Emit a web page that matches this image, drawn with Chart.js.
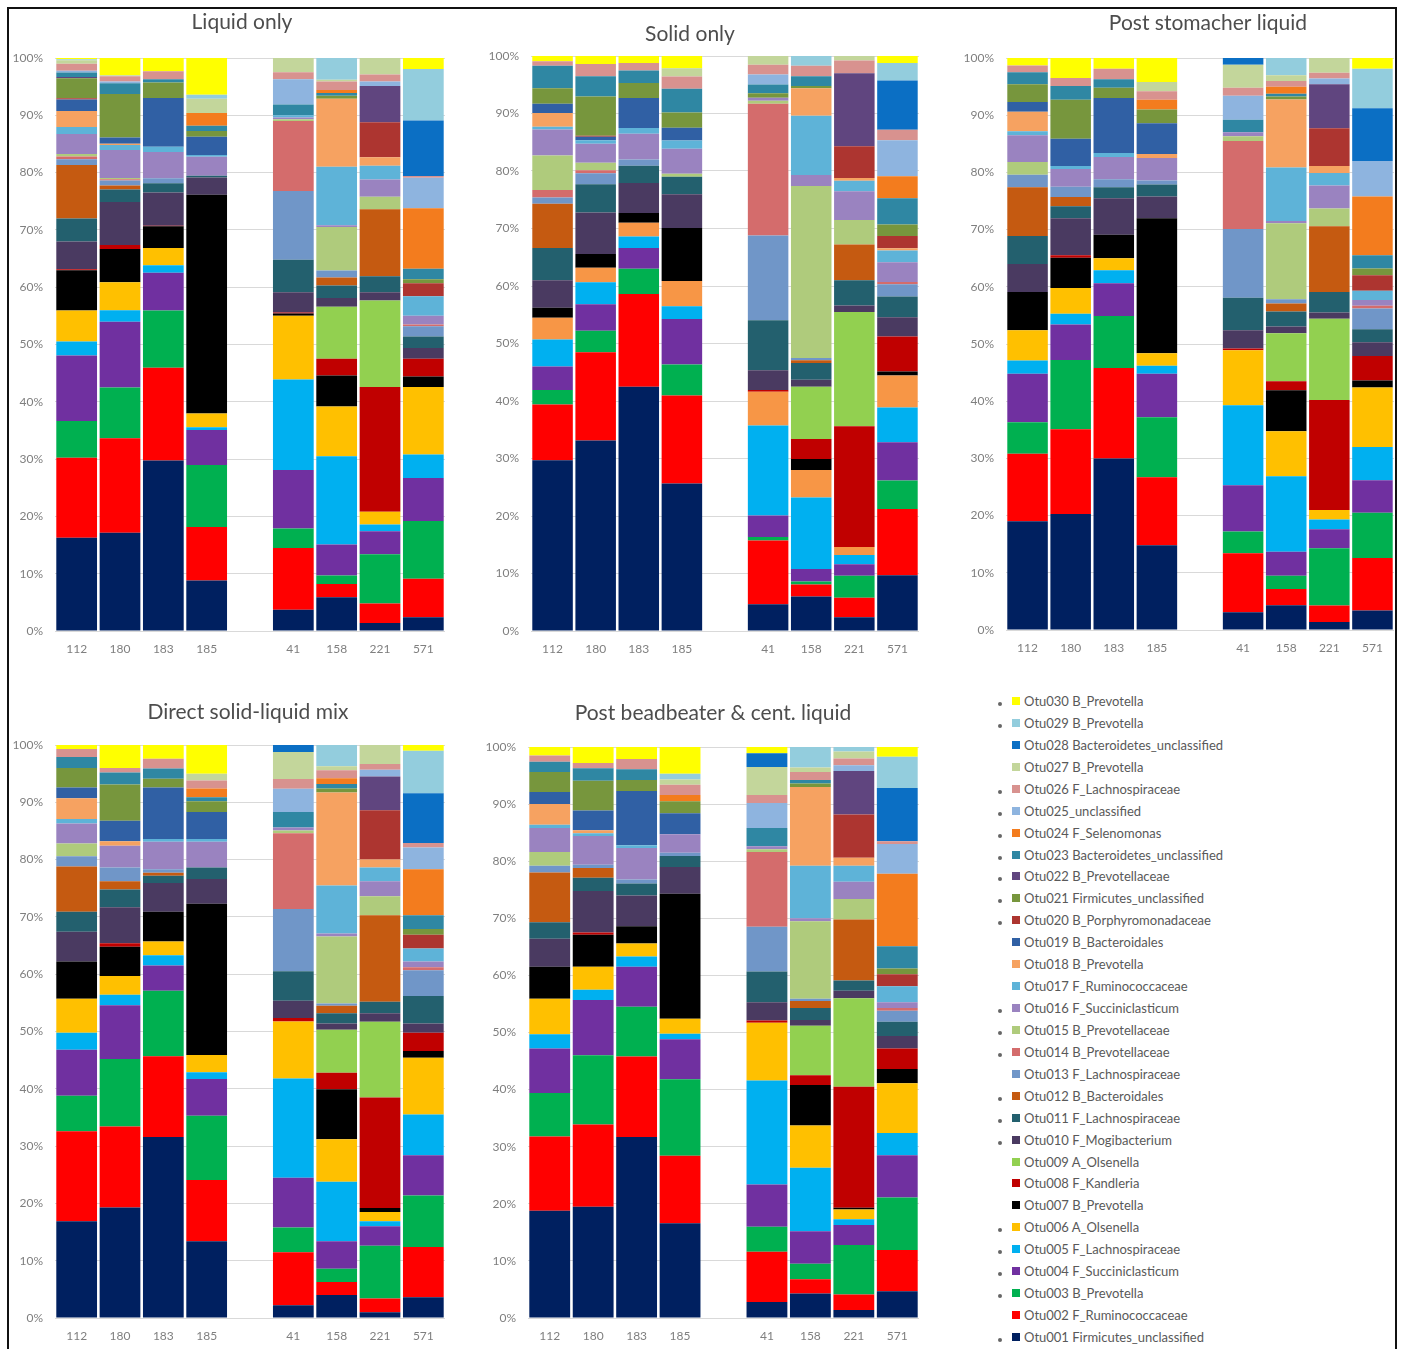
<!DOCTYPE html>
<html>
<head>
<meta charset="utf-8">
<title>OTU relative abundance</title>
<script src="https://cdn.jsdelivr.net/npm/chart.js@4.4.1/dist/chart.umd.min.js"></script>
<style>
  html, body { margin: 0; padding: 0; background: #fff; }
  body { width: 1402px; height: 1349px; position: relative; overflow: hidden; font-family: Lato, "Open Sans", sans-serif; }
  .panel { position: absolute; }
  .frame { position: absolute; left: 7px; top: 7px; width: 1386px; height: 1380px; border: 2px solid #111; pointer-events: none; z-index: 5; }
  .item { position: absolute; left: 990px; height: 16px; line-height: 16px; font-size: 13px; color: #595959; white-space: nowrap; }
  .item .dot { position: absolute; left: 8px; top: 9px; width: 4px; height: 4px; border-radius: 50%; background: #666; }
  .item .sw { position: absolute; left: 22px; top: 4px; width: 8px; height: 8px; }
  .item .tx { position: absolute; left: 34px; top: 0; }
</style>
</head>
<body>
<div class="frame"></div>
<div id="legend"></div>

<script>
// ---- categories ----
const sampleLabels = ['112', '180', '183', '185', '', '41', '158', '221', '571'];
const sampleIds = ['112', '180', '183', '185', '41', '158', '221', '571'];

const otuNames = [
  'Otu001 Firmicutes_unclassified', 'Otu002 F_Ruminococcaceae', 'Otu003 B_Prevotella',
  'Otu004 F_Succiniclasticum', 'Otu005 F_Lachnospiraceae', 'Otu006 A_Olsenella',
  'Otu007 B_Prevotella', 'Otu008 F_Kandleria', 'Otu009 A_Olsenella',
  'Otu010 F_Mogibacterium', 'Otu011 F_Lachnospiraceae', 'Otu012 B_Bacteroidales',
  'Otu013 F_Lachnospiraceae', 'Otu014 B_Prevotellaceae', 'Otu015 B_Prevotellaceae',
  'Otu016 F_Succiniclasticum', 'Otu017 F_Ruminococcaceae', 'Otu018 B_Prevotella',
  'Otu019 B_Bacteroidales', 'Otu020 B_Porphyromonadaceae', 'Otu021 Firmicutes_unclassified',
  'Otu022 B_Prevotellaceae', 'Otu023 Bacteroidetes_unclassified', 'Otu024 F_Selenomonas',
  'Otu025_unclassified', 'Otu026 F_Lachnospiraceae', 'Otu027 B_Prevotella',
  'Otu028 Bacteroidetes_unclassified', 'Otu029 B_Prevotella', 'Otu030 B_Prevotella'
];

// OTUs flagged with a dot in the key
const flaggedOtus = [1, 3, 4, 5, 6, 10, 11, 12, 14, 15, 16, 20, 21, 22, 23, 24, 25, 26, 29, 30];

const panelTitles = ['Liquid only', 'Solid only', 'Post stomacher liquid',
  'Direct solid-liquid mix', 'Post beadbeater & cent. liquid'];

// ---- relative abundance (%), one row per sample, columns Otu001 .. Otu030 ----
const liquidOnly = [
  [16.2, 13.9, 6.4, 11.4, 2.4, 5.4, 7.0, 0.2, 0, 4.8, 4.0, 9.3, 1.0, 0.5, 0.4, 3.5, 1.2, 2.8, 2.0, 0.2, 3.5, 0.2, 0.8, 0, 0.3, 1.2, 0.6, 0, 0.2, 0.2],
  [17.2, 16.5, 8.9, 11.5, 2.0, 4.9, 5.8, 0.7, 0, 7.5, 2.2, 0.7, 0.9, 0.2, 0.2, 4.9, 0.9, 0.2, 1.1, 0, 7.6, 0, 1.9, 0, 0.3, 0.9, 0.2, 0, 0, 3.0],
  [29.8, 16.2, 10.0, 6.6, 1.3, 3.0, 3.8, 0.1, 0, 5.8, 1.6, 0, 0.9, 0, 0, 4.6, 0.9, 0, 8.5, 0, 2.7, 0, 0.6, 0, 0, 1.4, 0, 0, 0, 2.3],
  [8.8, 9.3, 10.8, 6.1, 0.5, 2.4, 38.1, 0, 0, 3.0, 0.3, 0, 0, 0, 0, 3.3, 0.3, 0, 3.2, 0, 1.0, 0, 0.9, 2.2, 0, 0, 2.5, 0, 0.7, 6.4],
  [3.7, 10.8, 3.4, 10.2, 15.8, 11.1, 0.4, 0.2, 0, 3.5, 5.7, 0, 12.0, 12.2, 0.3, 0.3, 0.4, 0, 0, 0, 0, 0, 1.9, 0, 4.4, 1.2, 2.5, 0, 0, 0],
  [5.9, 2.3, 1.5, 5.4, 15.4, 8.7, 5.4, 2.9, 9.1, 1.5, 2.2, 1.4, 1.2, 0, 7.6, 0.3, 10.2, 11.9, 0, 0, 0.5, 0, 0.5, 0.5, 0, 1.5, 0.3, 0, 3.8, 0],
  [1.4, 3.4, 8.6, 4.0, 1.2, 2.2, 0, 21.8, 15.1, 1.4, 2.8, 11.7, 0, 0, 2.2, 3.0, 2.4, 1.5, 0, 6.1, 0, 6.3, 0, 0, 0.8, 1.2, 2.9, 0, 0, 0],
  [2.4, 6.7, 10.1, 7.5, 4.1, 11.8, 1.8, 3.1, 0, 1.9, 2.0, 0, 1.8, 0.3, 0, 1.5, 3.4, 0, 0, 2.3, 0.7, 0, 1.8, 10.6, 5.3, 0.3, 0, 9.7, 9.0, 1.9]
];

const solidOnly = [
  [29.7, 9.7, 2.5, 4.1, 4.7, 3.8, 1.7, 0, 0, 4.8, 5.6, 7.7, 1.1, 1.3, 6.0, 4.5, 0.5, 2.4, 1.6, 0, 2.7, 0, 3.9, 0, 0, 0.8, 0, 0, 0, 0.9],
  [33.0, 15.3, 3.7, 4.6, 3.8, 2.5, 2.4, 0, 0, 7.2, 4.9, 0, 1.9, 0.5, 1.3, 3.3, 0.6, 0, 0.6, 0.2, 6.8, 0, 3.5, 0, 0, 2.1, 0, 0, 0, 1.4],
  [42.5, 16.1, 4.4, 3.6, 2.0, 2.4, 1.7, 0, 0, 5.2, 3.0, 0, 1.1, 0, 0, 4.5, 1.0, 0, 5.2, 0, 2.6, 0, 2.2, 0, 0, 1.3, 0, 0, 0, 1.2],
  [25.3, 15.1, 5.3, 7.8, 2.2, 4.3, 9.1, 0, 0, 5.8, 3.0, 0, 0, 0, 0.5, 4.3, 1.4, 0, 2.2, 0, 2.6, 0, 4.1, 0, 0, 2.1, 1.4, 0, 0, 2.1],
  [4.6, 11.0, 0.6, 3.7, 15.5, 5.8, 0, 0.3, 0, 3.4, 8.6, 0, 14.6, 22.7, 0.5, 0.5, 0, 0, 0, 0, 0.8, 0, 1.5, 0, 1.7, 1.7, 1.5, 0, 0, 0],
  [6.0, 2.1, 0.5, 2.2, 12.4, 4.8, 1.9, 3.5, 9.1, 1.2, 2.9, 0.5, 0.4, 0, 29.9, 1.9, 10.3, 4.8, 0, 0, 0.4, 0, 1.7, 0, 0, 1.8, 0, 0, 1.7, 0],
  [2.4, 3.4, 3.8, 2.0, 1.6, 1.4, 0, 21.0, 19.9, 1.1, 4.4, 6.2, 0, 0, 4.3, 5.0, 1.8, 0.5, 0, 5.5, 0, 12.7, 0, 0, 0, 2.2, 0.8, 0, 0, 0],
  [9.6, 11.4, 4.9, 6.6, 6.0, 5.5, 0.7, 6.0, 0, 3.3, 3.6, 0, 2.1, 0.4, 0, 3.4, 2.0, 0.4, 0, 2.1, 2.0, 0, 4.5, 3.8, 6.2, 1.8, 0, 8.5, 3.0, 1.2]
];

const postStomacherLiquid = [
  [19.0, 11.8, 5.5, 8.5, 2.3, 5.3, 6.7, 0, 0, 4.9, 4.9, 8.5, 2.2, 0, 2.2, 4.7, 0.7, 3.4, 1.7, 0, 3.1, 0, 2.1, 0, 0, 1.2, 0, 0, 0, 1.3],
  [20.3, 14.8, 12.1, 6.2, 1.9, 4.5, 5.3, 0.4, 0, 6.5, 2.1, 1.6, 1.8, 0, 0, 3.1, 0.5, 0, 4.8, 0, 6.8, 0, 2.4, 0, 0, 1.4, 0, 0, 0, 3.5],
  [30.0, 15.8, 9.1, 5.7, 2.3, 2.1, 4.1, 0, 0, 6.4, 1.9, 0, 1.4, 0, 0, 3.9, 0.7, 0, 9.6, 0, 1.8, 0, 1.5, 0, 0, 1.8, 0, 0, 0, 1.9],
  [14.8, 11.9, 10.5, 7.6, 1.4, 2.2, 23.6, 0, 0, 3.8, 2.1, 0, 0.7, 0, 0, 3.9, 0, 0.7, 5.4, 0, 2.4, 0, 0, 1.7, 0, 1.5, 1.6, 0, 0, 4.2],
  [3.1, 10.3, 3.8, 8.1, 14.0, 9.6, 0, 0.3, 0, 3.2, 5.7, 0, 12.0, 15.4, 0.8, 0.7, 0, 0, 0, 0, 0, 0, 2.2, 0, 4.2, 1.4, 4.0, 1.2, 0, 0],
  [4.3, 2.8, 2.3, 4.2, 13.1, 7.8, 7.1, 1.6, 8.3, 1.2, 2.6, 1.4, 0.7, 0, 13.2, 0.4, 9.3, 11.8, 0, 0, 0.5, 0, 0.5, 1.2, 0, 1.0, 1.0, 0, 3.0, 0],
  [1.4, 2.9, 10.0, 3.3, 1.7, 1.7, 0, 19.2, 14.2, 1.1, 3.6, 11.5, 0, 0, 3.1, 4.0, 2.2, 1.2, 0, 6.6, 0, 7.7, 0, 0, 1.0, 1.0, 2.6, 0, 0, 0],
  [3.4, 9.2, 7.9, 5.7, 5.8, 10.4, 1.2, 4.3, 0, 2.4, 2.3, 0, 3.6, 0.5, 0, 1.0, 1.6, 0, 0, 2.7, 1.2, 0, 2.3, 10.3, 6.2, 0, 0, 9.2, 6.9, 1.9]
];

const directSolidLiquidMix = [
  [16.9, 15.7, 6.2, 8.0, 3.0, 5.9, 6.5, 0, 0, 5.2, 3.5, 7.9, 1.8, 0, 2.2, 3.5, 0.8, 3.6, 1.9, 0, 3.4, 0, 1.9, 0, 0, 1.4, 0, 0, 0, 0.7],
  [19.3, 14.1, 11.8, 9.4, 1.8, 3.3, 5.1, 0.6, 0, 6.3, 3.1, 1.4, 2.4, 0, 0, 3.8, 0, 0.8, 3.6, 0, 6.3, 0, 2.1, 0, 0, 0.8, 0, 0, 0, 4.0],
  [31.6, 14.1, 11.4, 4.4, 1.8, 2.4, 5.2, 0, 0, 5.0, 1.3, 0.5, 0.6, 0, 0, 4.8, 0.5, 0, 9.0, 0, 1.5, 0, 1.8, 0, 0, 1.7, 0, 0, 0, 2.4],
  [13.4, 10.7, 11.2, 6.4, 1.2, 3.0, 26.4, 0, 0, 4.3, 2.0, 0, 0, 0, 0, 4.5, 0.5, 0, 4.7, 0, 1.9, 0, 0.7, 1.5, 0, 1.4, 1.2, 0, 0, 5.0],
  [2.2, 9.2, 4.3, 8.6, 17.2, 9.9, 0, 0.6, 0, 3.0, 5.1, 0, 10.8, 13.1, 0.5, 0.5, 0, 0, 0, 0, 0, 0, 2.7, 0, 4.0, 1.7, 4.7, 1.2, 0, 0],
  [4.0, 2.3, 2.3, 4.8, 10.4, 7.4, 8.7, 2.9, 7.5, 1.1, 1.8, 1.3, 0.4, 0, 11.7, 0.5, 8.4, 16.2, 0, 0, 0.7, 0, 0.8, 1.0, 0, 1.4, 0.7, 0, 3.7, 0],
  [1.0, 2.4, 9.2, 3.4, 0.9, 1.6, 0.7, 19.3, 13.2, 1.5, 2.0, 15.1, 0, 0, 3.3, 2.6, 2.4, 1.4, 0, 8.6, 0, 5.9, 0, 0, 1.2, 1.0, 3.3, 0, 0, 0],
  [3.6, 8.8, 9.0, 7.0, 7.1, 9.9, 1.2, 3.2, 0, 1.6, 4.8, 0, 4.5, 0.5, 0, 1.0, 2.3, 0, 0, 2.4, 1.0, 0, 2.4, 8.0, 3.8, 0.8, 0, 8.7, 7.4, 1.0]
];

const postBeadbeaterLiquid = [
  [18.8, 13.0, 7.6, 7.8, 2.5, 6.2, 5.6, 0, 0, 4.9, 2.9, 8.7, 1.2, 0, 2.4, 4.2, 0.6, 3.6, 2.1, 0, 3.5, 0, 1.8, 0, 0, 1.1, 0, 0, 0, 1.5],
  [19.5, 14.4, 12.1, 9.7, 1.8, 4.0, 5.6, 0.4, 0, 7.3, 2.3, 1.7, 0.6, 0, 0, 5.0, 0.5, 0.5, 3.5, 0, 5.2, 0, 2.2, 0, 0, 0.9, 0, 0, 0, 2.8],
  [31.7, 14.1, 8.7, 7.0, 1.8, 2.3, 3.0, 0, 0, 5.4, 2.1, 0, 0.7, 0, 0, 5.5, 0.5, 0, 9.5, 0, 1.9, 0, 1.9, 0, 0, 1.8, 0, 0, 0, 2.1],
  [16.6, 11.8, 13.4, 7.0, 1.0, 2.6, 21.9, 0, 0, 4.7, 1.9, 0, 0.6, 0, 0, 3.2, 0, 0, 3.7, 0, 2.1, 0, 0, 1.1, 0, 1.8, 0.9, 0, 1.0, 4.7],
  [2.8, 8.8, 4.4, 7.4, 18.2, 10.1, 0, 0.4, 0, 3.2, 5.4, 0, 7.8, 13.1, 0.5, 0.5, 0, 0, 0, 0, 0, 0, 3.2, 0, 4.4, 1.4, 4.9, 2.4, 0, 1.1],
  [4.3, 2.5, 2.7, 5.7, 11.1, 7.4, 7.1, 1.7, 8.7, 1.0, 2.1, 1.2, 0.4, 0, 13.6, 0.5, 9.2, 13.8, 0, 0, 0.6, 0, 0.6, 0, 0, 1.4, 0.8, 0, 3.6, 0],
  [1.4, 2.7, 8.7, 3.5, 1.0, 1.7, 0.3, 21.2, 15.5, 1.3, 1.8, 10.7, 0, 0, 3.6, 3.0, 2.8, 1.4, 0, 7.6, 0, 7.6, 0, 0, 1.0, 1.2, 1.2, 0, 0.8, 0],
  [4.7, 7.2, 9.2, 7.4, 3.9, 8.7, 2.5, 3.6, 0, 2.2, 2.5, 0, 1.9, 0.5, 0, 1.0, 2.8, 0, 0, 2.1, 1.0, 0, 3.9, 12.7, 5.2, 0.5, 0, 9.3, 5.5, 1.7]
];

const yTicks = [0, 10, 20, 30, 40, 50, 60, 70, 80, 90, 100];

// ---- styling ----
const otuColors = [
  '#002060', '#FF0000', '#00B050', '#7030A0', '#00B0F0', '#FFC000',
  '#000000', '#C00000', '#92D050', '#4A3A61', '#23606E', '#C55A11',
  '#7096C8', '#D46C6C', '#AFCB7C', '#9A83C0', '#5EB3D8', '#F6A261',
  '#3060A4', '#AD3530', '#77963D', '#60457F', '#2F87A3', '#F37C1E',
  '#8EB4DF', '#D8928F', '#C3D69B', '#0B6FC4', '#93CDDD', '#FFFF00'
];

const panelData = [liquidOnly, solidOnly, postStomacherLiquid, directSolidLiquidMix, postBeadbeaterLiquid];

// plot-area edges of each panel on the page, and where its title sits
const panelBoxes = [
  { L: 55,   R: 445,  T: 58,  B: 631,  tx: 242,  ty: 22 },
  { L: 531,  R: 919,  T: 56,  B: 631,  tx: 690,  ty: 34 },
  { L: 1006, R: 1394, T: 58,  B: 630,  tx: 1208, ty: 23 },
  { L: 55,   R: 445,  T: 745, B: 1318, tx: 248,  ty: 712 },
  { L: 528,  R: 919,  T: 747, B: 1318, tx: 713,  ty: 713 }
];

const AXIS_W = 50, TITLE_H = 50, XAXIS_H = 40, RIGHT_PAD = 4;

const panelTitlePlugin = {
  id: 'panelTitle',
  afterDraw(chart, args, opts) {
    const ctx = chart.ctx;
    ctx.save();
    ctx.font = '21px Lato';
    ctx.fillStyle = '#4D4D4D';
    ctx.textAlign = 'center';
    ctx.textBaseline = 'middle';
    ctx.fillText(opts.text, opts.x, opts.y);
    ctx.restore();
  }
};

function buildDatasets(rows, colors) {
  const totals = rows.map(r => r.reduce((a, b) => a + b, 0));
  return otuNames.map((name, i) => ({
    label: name,
    data: sampleLabels.map(lbl => {
      if (lbl === '') return null;
      const k = sampleIds.indexOf(lbl);
      return rows[k][i] / totals[k] * 100;
    }),
    backgroundColor: colors[i],
    borderWidth: 0,
    barPercentage: 0.94,
    categoryPercentage: 1
  }));
}

function buildPanel(p) {
  const box = panelBoxes[p];
  const left = box.L - AXIS_W;
  const top = box.T - TITLE_H;
  const width = box.R - box.L + AXIS_W + RIGHT_PAD;
  const height = box.B - box.T + TITLE_H + XAXIS_H;

  const wrap = document.createElement('div');
  wrap.className = 'panel';
  wrap.style.left = left + 'px';
  wrap.style.top = top + 'px';
  wrap.style.width = width + 'px';
  wrap.style.height = height + 'px';
  const canvas = document.createElement('canvas');
  canvas.width = width;
  canvas.height = height;
  canvas.style.width = width + 'px';
  canvas.style.height = height + 'px';
  wrap.appendChild(canvas);
  document.body.appendChild(wrap);

  // the solid-only chart shows Otu006 in a lighter orange
  const colors = otuColors.slice();
  if (p === 1) colors[5] = '#F79646';

  new Chart(canvas, {
    type: 'bar',
    data: { labels: sampleLabels, datasets: buildDatasets(panelData[p], colors) },
    plugins: [panelTitlePlugin],
    options: {
      responsive: false,
      animation: false,
      devicePixelRatio: 1,
      layout: { padding: { top: TITLE_H, right: RIGHT_PAD, left: 0, bottom: 0 } },
      plugins: {
        legend: { display: false },
        tooltip: { enabled: false },
        title: { display: false },
        panelTitle: { text: panelTitles[p], x: box.tx - left, y: box.ty - top }
      },
      scales: {
        x: {
          stacked: true,
          grid: { display: false },
          border: { display: false },
          ticks: { color: '#7F7F7F', font: { family: 'Lato', size: 12 }, padding: 3, maxRotation: 0, autoSkip: false },
          afterFit(scale) { scale.height = XAXIS_H; }
        },
        y: {
          stacked: true,
          min: 0,
          max: 100,
          afterBuildTicks(scale) { scale.ticks = yTicks.map(v => ({ value: v })); },
          grid: { color: '#D9D9D9', lineWidth: 1, drawTicks: false },
          border: { display: false },
          ticks: { color: '#7F7F7F', font: { family: 'Lato', size: 12 }, padding: 12, callback: v => v + '%' },
          afterFit(scale) { scale.width = AXIS_W; }
        }
      }
    }
  });
}

function buildLegend() {
  const legend = document.getElementById('legend');
  const firstY = 701, stepY = 21.93;
  for (let n = 0; n < otuNames.length; n++) {
    const i = otuNames.length - 1 - n; // Otu030 at the top
    const item = document.createElement('div');
    item.className = 'item';
    item.style.top = (firstY + n * stepY - 8) + 'px';
    if (flaggedOtus.includes(i + 1)) {
      const dot = document.createElement('span');
      dot.className = 'dot';
      item.appendChild(dot);
    }
    const sw = document.createElement('span');
    sw.className = 'sw';
    sw.style.background = otuColors[i];
    item.appendChild(sw);
    const tx = document.createElement('span');
    tx.className = 'tx';
    tx.textContent = otuNames[i];
    item.appendChild(tx);
    legend.appendChild(item);
  }
}

function start() {
  for (let p = 0; p < panelBoxes.length; p++) buildPanel(p);
  buildLegend();
}

const fontReady = (document.fonts && document.fonts.load)
  ? Promise.all([document.fonts.load('21px Lato'), document.fonts.load('12px Lato')]).catch(() => null)
  : Promise.resolve();
fontReady.then(start);
</script>
</body>
</html>
